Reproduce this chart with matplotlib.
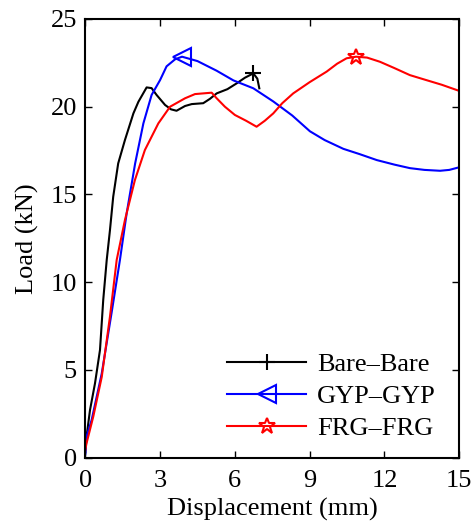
import matplotlib
matplotlib.use("Agg")
import matplotlib.pyplot as plt
from matplotlib.lines import Line2D

plt.rcParams['font.family'] = ['Liberation Serif', 'DejaVu Serif']

bare_x = [0, 0.05, 0.19, 0.39, 0.59, 0.72, 0.86, 0.99, 1.12, 1.32, 1.59, 1.93, 2.13, 2.46, 2.66, 2.86,
          3.2, 3.44, 3.66, 4.0, 4.27, 4.73, 5.0, 5.27, 5.7, 6.07, 6.4, 6.74, 6.9, 6.98]
bare_y = [0.3, 1.2, 2.72, 4.24, 6.14, 8.99, 11.27, 12.97, 14.87, 16.77, 18.1, 19.62, 20.28, 21.1, 21.06, 20.67,
          20.1, 19.85, 19.77, 20.04, 20.15, 20.2, 20.45, 20.76, 21.0, 21.33, 21.65, 21.9, 21.6, 21.05]
bare_peak = 27

gyp_x = [0, 0.05, 0.255, 0.66, 1.06, 1.39, 1.66, 2.0, 2.33, 2.66, 3.0, 3.26, 3.6, 3.88, 4.5, 5.27,
         5.94, 6.74, 7.54, 8.3, 9.01, 9.6, 10.35, 11.0, 11.69, 12.4, 13.02, 13.6, 14.23, 14.6, 15.0]
gyp_y = [0.2, 1.2, 2.15, 4.8, 8.3, 11.27, 13.93, 16.77, 19.05, 20.67, 21.52, 22.3, 22.7, 22.85, 22.6, 22.05,
         21.5, 21.05, 20.3, 19.5, 18.6, 18.1, 17.6, 17.3, 16.96, 16.7, 16.5, 16.4, 16.35, 16.4, 16.55]
gyp_peak = 13

frg_x = [0, 0.05, 0.32, 0.66, 0.99, 1.26, 1.59, 1.99, 2.39, 2.93, 3.4, 4.0, 4.4, 5.07, 5.27, 5.6,
         6.0, 6.45, 6.87, 7.2, 7.54, 7.9, 8.34, 9.0, 9.68, 10.1, 10.48, 10.86,
         11.3, 11.82, 12.4, 13.02, 13.6, 14.3, 15.0]
frg_y = [0.44, 0.82, 2.34, 4.6, 8.04, 11.27, 13.54, 15.82, 17.53, 19.05, 20.0, 20.48, 20.72, 20.8, 20.48, 20.0,
         19.53, 19.2, 18.86, 19.2, 19.62, 20.2, 20.76, 21.4, 22.0, 22.45, 22.76, 22.85,
         22.8, 22.56, 22.2, 21.8, 21.55, 21.25, 20.9]
frg_peak = 27

labels = ['Bare\u2013Bare', 'GYP\u2013GYP', 'FRG\u2013FRG']
colors = ['black', 'blue', 'red']
markers = ['+', '<', '*']
msizes = [11, 13, 12]
x_ticks = [0, 3, 6, 9, 12, 15]
y_ticks = [0, 5, 10, 15, 20, 25]

fig = plt.figure(figsize=(4.73, 5.27), dpi=100)
ax = fig.add_axes([0.1803, 0.1315, 0.7907, 0.8325])

series = [(bare_x, bare_y, bare_peak), (gyp_x, gyp_y, gyp_peak), (frg_x, frg_y, frg_peak)]
handles = []
for (xs, ys, pk), c, m, ms, lab in zip(series, colors, markers, msizes, labels):
    ax.plot(xs, ys, color=c, lw=1.5, marker=m, markevery=[pk], ms=ms,
            mfc='none', mec=c, mew=1.5)
    handles.append(Line2D([0], [0], color=c, lw=1.5, marker=m, ms=ms, mfc='none', mec=c, mew=1.5))

ax.set_xlim(0, 15)
ax.set_ylim(0, 25)
ax.set_xticks(x_ticks)
ax.set_yticks(y_ticks)
ax.tick_params(direction='in', top=True, right=True, labelsize=19, length=5, width=1)
ax.tick_params(axis='x', pad=9)
ax.tick_params(axis='y', pad=6)
for s in ax.spines.values():
    s.set_linewidth(1.5)
ax.set_xlabel('Displacement (mm)', fontsize=19, labelpad=4)
ax.set_ylabel('Load (kN)', fontsize=19, labelpad=8)

ax.legend(handles, labels, loc='upper left', bbox_to_anchor=(227 / 473, 1 - 353 / 527),
          bbox_transform=fig.transFigure, frameon=False,
          fontsize=19, handlelength=3.0, handletextpad=0.4, labelspacing=0.32,
          borderpad=0, borderaxespad=0)

fig.savefig('out.png', dpi=100)
